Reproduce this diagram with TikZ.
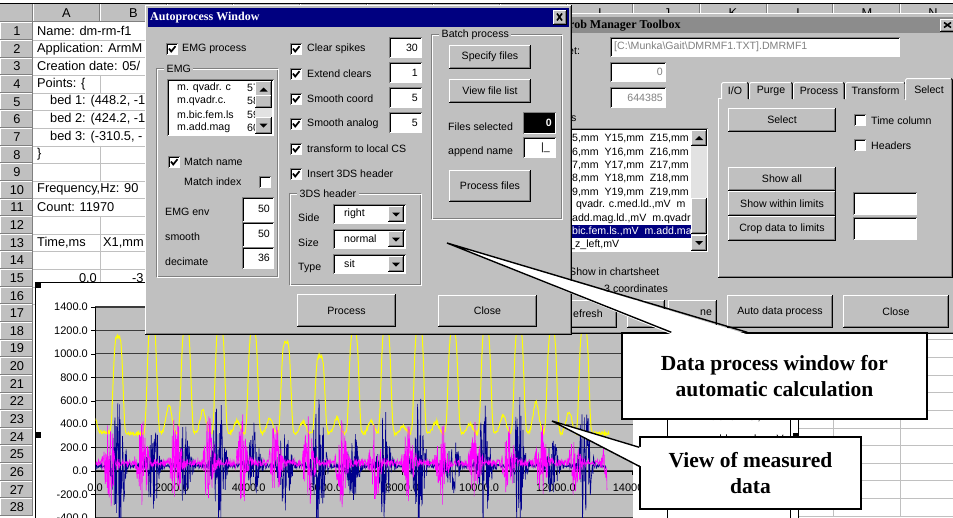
\documentclass[tikz,border=0pt]{standalone}
\usepackage{fontspec}
\usetikzlibrary{calc}
\setmainfont{Liberation Serif}
\setsansfont{Liberation Sans}
\definecolor{wingray}{RGB}{192,192,192}
\definecolor{windark}{RGB}{128,128,128}
\definecolor{winnavy}{RGB}{0,0,128}
\definecolor{cellgrid}{RGB}{192,192,192}
\definecolor{trackgray}{RGB}{226,226,226}
\definecolor{inactcap}{RGB}{140,140,140}
\definecolor{sigyellow}{RGB}{255,255,0}
\definecolor{sigmag}{RGB}{255,0,255}
\definecolor{signavy}{RGB}{0,0,140}
\definecolor{gridline}{RGB}{60,60,60}

\newcommand{\uif}{\sffamily\fontsize{10.6}{12}\selectfont}
\newcommand{\cellf}{\sffamily\fontsize{12.8}{15}\selectfont}
\newcommand{\axf}{\sffamily\fontsize{11}{13}\selectfont}
\newcommand{\titf}{\rmfamily\bfseries\fontsize{12}{14}\selectfont}
\newcommand{\callf}{\rmfamily\bfseries\fontsize{21.5}{26}\selectfont}

% raised Win95 bevel
\newcommand{\uiRaise}[4]{%
  \fill[wingray] (#1,#2) rectangle (#3,#4);
  \draw[bev, white] (#1+0.5,#4-1) -- (#1+0.5,#2+0.5) -- (#3-1,#2+0.5);
  \draw[bev, windark] (#1+1,#4-1.5) -- (#3-1.5,#4-1.5) -- (#3-1.5,#2+1);
  \draw[bev, black] (#1,#4-0.5) -- (#3-0.5,#4-0.5) -- (#3-0.5,#2);
}
\newcommand{\uiButton}[5]{%
  \uiRaise{#1}{#2}{#3}{#4}
  \node[uitext, anchor=center] at ({(#1+#3)/2},{(#2+#4)/2}) {#5};
}
% sunken field
\newcommand{\uiSunk}[5]{%
  \fill[#5] (#1,#2) rectangle (#3,#4);
  \draw[bev, white] (#1+0.5,#4-0.5) -- (#3-0.5,#4-0.5) -- (#3-0.5,#2+0.5);
  \draw[bev, windark] (#1+0.5,#4-0.5) -- (#1+0.5,#2+0.5) -- (#3-0.5,#2+0.5);
  \draw[bev, black] (#1+1.5,#4-1.5) -- (#1+1.5,#2+1.5) -- (#3-1.5,#2+1.5);
}
\newcommand{\uiCheck}[3]{%
  \uiSunk{#1}{#2}{#1+12}{#2+12}{white}
  \ifnum#3=1 \draw[line width=1.7pt, black] (#1+3,#2+5.5) -- (#1+5.2,#2+8.5) -- (#1+9.5,#2+3.2);\fi
}
\newcommand{\uiGroup}[5]{%
  \draw[bev, windark] (#1+0.5,#2+0.5) rectangle (#3-0.5,#4-0.5);
  \draw[bev, white] (#1+1.5,#2+1.5) rectangle (#3+0.5,#4+0.5);
  \node[uitext, fill=wingray, inner xsep=2.5pt, inner ysep=1pt] at (#1+8,#2+1) {#5};
}
\newcommand{\uiCombo}[5]{%
  \uiSunk{#1}{#2}{#3}{#4}{white}
  \uiRaise{#3-18}{#2+2}{#3-2}{#4-2}
  \fill[black] (#3-14,{(#2+#4)/2-1.5}) -- (#3-6,{(#2+#4)/2-1.5}) -- (#3-10,{(#2+#4)/2+2.5}) -- cycle;
  \node[uitext] at (#1+11,{(#2+#4)/2}) {#5};
}
% vertical scrollbar: x1 y1 x2 y2 thumbtop thumbbottom
\newcommand{\uiVScroll}[6]{%
  \fill[trackgray] (#1,#2) rectangle (#3,#4);
  \uiRaise{#1}{#2}{#3}{#2+#3-#1}
  \uiRaise{#1}{#4-#3+#1}{#3}{#4}
  \uiRaise{#1}{#5}{#3}{#6}
  \fill[black] ({(#1+#3)/2-4},{#2+(#3-#1)/2+2}) -- ({(#1+#3)/2+4},{#2+(#3-#1)/2+2}) -- ({(#1+#3)/2},{#2+(#3-#1)/2-2}) -- cycle;
  \fill[black] ({(#1+#3)/2-4},{#4-(#3-#1)/2-2}) -- ({(#1+#3)/2+4},{#4-(#3-#1)/2-2}) -- ({(#1+#3)/2},{#4-(#3-#1)/2+2}) -- cycle;
}
\newcommand{\uiTab}[5]{%
  \fill[wingray] (#1,#2) rectangle (#3,#4);
  \draw[bev, white] (#1+0.5,#4) -- (#1+0.5,#2+2) -- (#1+2,#2+0.5) -- (#3-2,#2+0.5);
  \draw[bev, black] (#3-2,#2+0.5) -- (#3-0.5,#2+2) -- (#3-0.5,#4);
  \draw[bev, windark] (#3-1.5,#2+2) -- (#3-1.5,#4);
  \node[uitext, anchor=center] at ({(#1+#3)/2},{(#2+#4)/2+0.5}) {#5};
}
\newcommand{\uiClose}[4]{%
  \uiRaise{#1}{#2}{#3}{#4}
  \draw[line width=1.6pt, black] (#1+4,#2+3.5) -- (#3-5,#4-4.5) (#1+4,#4-4.5) -- (#3-5,#2+3.5);
}

\pgfmathdeclarefunction{cph}{1}{\pgfmathparse{mod(#1-118+16.65+66.6,33.3)-16.65}}

\begin{document}
\begin{tikzpicture}[x=1pt,y=-1pt,
  bev/.style={line width=1pt},
  uitext/.style={font=\uif, inner sep=0pt, anchor=west, text=black},
  celltext/.style={font=\cellf, inner sep=0pt, anchor=west, text=black},
  axlabel/.style={font=\axf, inner sep=0pt, text=black},
  callbox/.style={draw=black, line width=1.4pt, fill=white, align=center, font=\callf, inner sep=0pt},
  wedge/.style={draw=black, line width=1.4pt, line join=miter}]
\useasboundingbox (0,0) rectangle (953,517);
\fill[white] (0,0) rectangle (953,517);

% ---------- spreadsheet column header ----------
\fill[wingray] (0,4) rectangle (953,22);
\draw[black, line width=1pt] (0,3.5) -- (953,3.5);
\draw[windark, bev] (0,21.8) -- (953,21.8);
\foreach \cx in {33,100,167,233,300,367,433,500,567,633,700,767,833,900} {
  \draw[windark, bev] (\cx-0.5,4) -- (\cx-0.5,22);
  \draw[white, bev] (\cx+0.5,4) -- (\cx+0.5,21);
}
\foreach \cx/\cl in {66.5/A,133.5/B,600/I,667/J,733/K,800/L,867/M,933/N}
  \node[celltext, anchor=center] (col\cl) at (\cx,13.5) {\cl};

% ---------- row header ----------
\foreach \r in {1,...,28} {
  \pgfmathsetmacro\ty{22.3+(\r-1)*17.63}
  \fill[wingray] (0,\ty) rectangle (33,\ty+17.63);
  \draw[white, bev] (0.5,\ty+17) -- (0.5,\ty+0.5) -- (32,\ty+0.5);
  \draw[windark, bev] (0,\ty+17.1) -- (32.5,\ty+17.1) -- (32.5,\ty);
  \node[celltext, anchor=center] (row\r) at (17,\ty+8.9) {\r};
}

% ---------- cell grid, columns A/B ----------
\foreach \r in {1,...,16} {
  \pgfmathsetmacro\ty{22.3+\r*17.63}
  \draw[cellgrid] (33,\ty) -- (150,\ty);
}
\foreach \r in {4,8,9,12,13,14,15} {
  \pgfmathsetmacro\ty{22.3+(\r-1)*17.63}
  \draw[cellgrid] (100,\ty) -- (100,\ty+17.63);
}
% cell contents
\node[celltext] (a1) at (37,31.1) {Name: dm-rm-f1};
\node[celltext] (a2) at (37,48.7) {Application: ArmM};
\node[celltext] (a3) at (37,66.4) {Creation date: 05/};
\node[celltext] (a4) at (37,84.0) {Points: \{};
\node[celltext] (a5) at (50,101.6) {bed 1: (448.2, -1};
\node[celltext] (a6) at (50,119.3) {bed 2: (424.2, -1};
\node[celltext] (a7) at (50,136.9) {bed 3: (-310.5, -};
\node[celltext] (a8) at (37,154.5) {\}};
\node[celltext] (a10) at (37,189.8) {Frequency,Hz: 90};
\node[celltext] (a11) at (37,207.4) {Count: 11970};
\node[celltext] (a13) at (37,242.7) {Time,ms};
\node[celltext] (b13) at (103,242.7) {X1,mm};
\node[celltext, anchor=east] (a15) at (97,277.9) {0.0};
\node[celltext] (b15) at (132,277.9) {-3};

% ---------- cell grid, right of the chart ----------
\foreach \r in {18,...,28} {
  \pgfmathsetmacro\ty{22.3+\r*17.63}
  \draw[cellgrid] (798,\ty) -- (953,\ty);
}
\draw[cellgrid] (833,320) -- (833,517);
\draw[cellgrid] (900,320) -- (900,517);

% ---------- chart ----------
\draw[black, fill=white] (35,282.5) rectangle (798.5,530);
\fill[wingray] (95,307) rectangle (633,530);
\foreach \v/\lab in {1400/1400.0,1200/1200.0,1000/1000.0,800/800.0,600/600.0,400/400.0,200/200.0,0/0.0,-200/-200.0,-400/-400.0} {
  \pgfmathsetmacro\gy{471-0.11714*\v}
  \draw[gridline, line width=1.1pt] (95,\gy) -- (633,\gy);
  \draw[black] (91,\gy) -- (95,\gy);
  \node[axlabel, anchor=east] at (88,\gy) {\lab};
}
\draw[black, line width=0.8pt] (95,307) -- (95,530);
\draw[black, line width=0.8pt] (95,471) -- (633,471);
\foreach \t/\lab in {0/0.0,2000/2000.0,4000/4000.0,6000/6000.0,8000/8000.0,10000/10000.0,12000/12000.0,14000/14000.0} {
  \pgfmathsetmacro\tx{95+0.0384*\t}
  \draw[black] (\tx,471) -- (\tx,475);
  \node[axlabel, anchor=center] at (\tx,488) {\lab};
}
% measured signals
\pgfmathsetseed{4711}
\begin{scope}
  \clip (95.5,307) rectangle (633,530);
  % joint angle trace
  \draw[sigyellow, line width=1pt] plot[domain=95:109.5, samples=30] (\x, {471-0.11714*(330+110*exp(0-(((\x-95)/3)^2))+14*rand)});
  \foreach \p/\h/\b in {118/1150/320,152/1250/560,186/1230/520,220/1250/430,253/1200/450,286/1100/420,320/980/450,354/1200/430,386/1230/380,419/1250/420,453/1200/400,486/1230/480,519/1220/590,552/1200/500,584/1230/320}
    \draw[sigyellow, line width=1pt] plot[domain=\p-8.5:\p+25, samples=70]
      (\x, {471-0.11714*(320+(\h-320)*exp(0-((\x-\p)/5.5)*((\x-\p)/5.5)*((\x-\p)/5.5)*((\x-\p)/5.5))+(\b-320)*exp(0-(((\x-\p-17)/4)^2))+14*rand)});
  % EMG traces
  \draw[signavy, line width=0.6pt] plot[domain=95:606, samples=1300, variable=\t]
    (\t, {471-0.11714*(45+(16+680*exp(0-(((cph(\t)-1)/6)^2))*(0.7+0.3*sin(\t*7)))*rand)});
  \draw[sigmag, line width=0.6pt] plot[domain=95:607, samples=1300, variable=\t]
    (\t, {471-0.11714*(70+(28+430*exp(0-(((cph(\t)+8.5)/5)^2))*(0.8+0.2*sin(\t*11)))*rand)});
\end{scope}
% legend
\draw[black, fill=white] (667,395) rectangle (790,530);
\draw[signavy, line width=1.2pt] (671,418) -- (692,418);
\node[uitext] (legA) at (698,417) {m.bic.fem.ls.,mV};
\draw[sigmag, line width=1.2pt] (671,437) -- (694,437);
\node[uitext] (legB) at (698,440) {m.add.mag.ls.,mV};
% selection handles
\fill[black] (35,282) rectangle (41,288);
\fill[black] (35,432) rectangle (41,438);
\fill[black] (793,433) rectangle (798,439);

% ---------- toolbox window ----------
\uiRaise{540}{13}{960}{334}
\fill[inactcap] (544,17) rectangle (960,33);
\node[font=\titf, inner sep=0pt, anchor=west, text=black] (tbTitle) at (569,25.5) {rob Manager Toolbox};
\uiClose{940}{19}{956}{32}
\node[uitext] (tbSheet) at (568,51) {et:};
\uiSunk{610}{37}{900}{57}{white}
\node[uitext, text=windark] (tbFile) at (614,47) {[C:\textbackslash{}Munka\textbackslash{}Gait\textbackslash{}DMRMF1.TXT].DMRMF1};
\uiSunk{610}{62}{666}{82}{white}
\node[uitext, anchor=east, text=windark] (tbZero) at (663,72) {0};
\node[uitext] (tbR) at (568,102) {r};
\uiSunk{610}{87}{666}{108}{white}
\node[uitext, anchor=east, text=windark] (tbCount) at (663,97.5) {644385};
\node[uitext] (tbTs) at (568,118) {ts};
% channel list
\uiSunk{560}{128}{708}{252}{white}
\fill[winnavy] (560,225) rectangle (691,238);
\begin{scope}
  \clip (560,130) rectangle (691,250);
  \node[uitext] at (569,139) {.5,mm~~Y15,mm~~Z15,mm};
  \node[uitext] at (569,152.2) {.6,mm~~Y16,mm~~Z16,mm};
  \node[uitext] at (569,165.5) {.7,mm~~Y17,mm~~Z17,mm};
  \node[uitext] at (569,178.7) {.8,mm~~Y18,mm~~Z18,mm};
  \node[uitext] at (569,192) {.9,mm~~Y19,mm~~Z19,mm};
  \node[uitext] at (569,205.2) {. qvadr. c.med.ld.,mV~~m};
  \node[uitext] at (569,218.5) {.add.mag.ld.,mV~~m.qvadr};
  \node[uitext, text=white] at (569,231.7) {.bic.fem.ls.,mV~~m.add.mag};
  \node[uitext] at (569,245) {\_z\_left,mV};
\end{scope}
\uiVScroll{691}{130}{707}{251}{198}{234}
\node[uitext] (tbShow) at (569,272) {Show in chartsheet};
\node[uitext] (tbCoord) at (604,289) {3 coordinates};
\uiButton{569}{300}{617}{328}{}
\node[uitext] (tbRefresh) at (573,314) {efresh};
\uiButton{627}{300}{665}{328}{}
\uiButton{668}{300}{717}{328}{}
\node[uitext] (tbNe) at (700,313) {ne};
\uiButton{727}{295}{833}{328}{Auto data process}
\uiButton{843}{295}{949}{328}{Close}
% tab control
\uiRaise{718}{98}{953}{278}
\uiTab{721}{82}{749}{99}{I/O}
\uiTab{749}{82}{793}{99}{Purge}
\uiTab{793}{82}{845}{99}{Process}
\uiTab{845}{82}{906}{99}{Transform}
\uiTab{905}{78}{953}{100}{Select}
\uiButton{728}{108}{836}{132}{Select}
\uiCheck{854}{114}{0}
\node[uitext] (tbTime) at (871,120.5) {Time column};
\uiCheck{854}{139}{0}
\node[uitext] (tbHead) at (871,145.5) {Headers};
\uiButton{728}{167}{836}{191}{Show all}
\uiButton{728}{191}{836}{216}{Show within limits}
\uiButton{728}{216}{836}{241}{Crop data to limits}
\uiSunk{853}{192}{917}{215}{white}
\uiSunk{853}{217}{917}{240}{white}

% ---------- autoprocess window ----------
\uiRaise{145}{5}{572}{335}
\fill[winnavy] (148,8) rectangle (569,27);
\node[font=\titf, inner sep=0pt, anchor=west, text=white] (apTitle) at (150,18) {Autoprocess Window};
\uiClose{553}{10}{567}{25}
% EMG column
\uiCheck{166}{43}{1}
\node[uitext] (apEmg) at (182,49) {EMG process};
\uiGroup{156}{68}{278}{277}{EMG}
\uiSunk{167}{79}{274}{136}{white}
\begin{scope}
  \clip (169,81) rectangle (239,134);
  \node[uitext] at (177,88) {m. qvadr. c};
  \node[uitext] at (177,101) {m.qvadr.c.};
  \node[uitext] at (177,114.5) {m.bic.fem.ls};
  \node[uitext] at (177,128) {m.add.mag};
\end{scope}
\begin{scope}
  \clip (240,81) rectangle (256,134);
  \node[uitext] at (247,88) {57};
  \node[uitext] at (247,101) {58};
  \node[uitext] at (247,114.5) {59};
  \node[uitext] at (247,128) {60};
\end{scope}
\uiVScroll{255}{81}{272}{134}{95}{108}
\uiCheck{168}{156}{1}
\node[uitext] (apMatchN) at (184,162) {Match name};
\node[uitext] (apMatchI) at (184,182) {Match index};
\uiCheck{259}{176}{0}
\node[uitext] (apEnv) at (165,212) {EMG env};
\uiSunk{242}{197}{274}{222}{white}
\node[uitext, anchor=east] at (270,208.5) {50};
\node[uitext] (apSmooth) at (165,237) {smooth};
\uiSunk{242}{222}{274}{247}{white}
\node[uitext, anchor=east] at (270,233.5) {50};
\node[uitext] (apDec) at (165,262) {decimate};
\uiSunk{242}{247}{274}{269}{white}
\node[uitext, anchor=east] at (270,258) {36};
% processing options
\foreach \yy/\lab in {49/Clear spikes,74/Extend clears,99/Smooth coord,124/Smooth analog,149/transform to local CS,174/Insert 3DS header} {
  \uiCheck{290}{\yy-6}{1}
  \node[uitext] at (307,\yy) {\lab};
}
\foreach \yy/\val in {37/30,62/1,87/5,112/5} {
  \uiSunk{389}{\yy}{422}{\yy+21}{white}
  \node[uitext, anchor=east] at (418,\yy+10.5) {\val};
}
\uiGroup{289}{193}{421}{285}{3DS header}
\node[uitext] (apSide) at (298,218) {Side};
\uiCombo{333}{204}{406}{224}{right}
\node[uitext] (apSize) at (298,243) {Size};
\uiCombo{333}{229}{406}{249}{normal}
\node[uitext] (apType) at (298,268) {Type};
\uiCombo{333}{254}{406}{274}{sit}
% batch processing
\uiGroup{431}{34}{562}{219}{Batch process}
\uiButton{449}{45}{531}{69}{Specify files}
\uiButton{449}{79}{531}{103}{View file list}
\node[uitext] (apFiles) at (448,127) {Files selected};
\uiSunk{523}{112}{556}{134}{black}
\node[uitext, anchor=east, text=white, font=\uif\bfseries] at (552,123) {0};
\node[uitext] (apAppend) at (448,152) {append name};
\uiSunk{523}{137}{556}{158}{white}
\node[uitext, anchor=east] at (550,147.5) {|\_};
\uiButton{449}{170}{531}{202}{Process files}
\uiButton{297}{294}{396}{327}{Process}
\uiButton{438}{295}{537}{327}{Close}

% ---------- callouts ----------
\node[callbox, minimum width=305pt, minimum height=86pt] (calloutA) at (774.5,376) {Data process window for\\automatic calculation};
\coordinate (tipA) at (447,243);
\coordinate (baseA1) at ($(calloutA.north west)+(50,0)$);
\coordinate (baseA2) at ($(calloutA.north west)+(126,0)$);
\fill[white] (tipA) -- ($(baseA1)+(0,2)$) -- ($(baseA2)+(0,2)$) -- cycle;
\draw[wedge] (baseA1) -- (tipA) -- (baseA2);

\node[callbox, minimum width=221pt, minimum height=72pt] (calloutB) at (750.5,473) {View of measured\\data};
\coordinate (tipB) at (552,421);
\coordinate (baseB1) at ($(calloutB.north west)+(0,11)$);
\coordinate (baseB2) at ($(calloutB.north west)+(0,30)$);
\fill[white] (tipB) -- ($(baseB1)+(2,0)$) -- ($(baseB2)+(2,0)$) -- cycle;
\draw[wedge] (baseB1) -- (tipB) -- (baseB2);
\end{tikzpicture}
\end{document}
